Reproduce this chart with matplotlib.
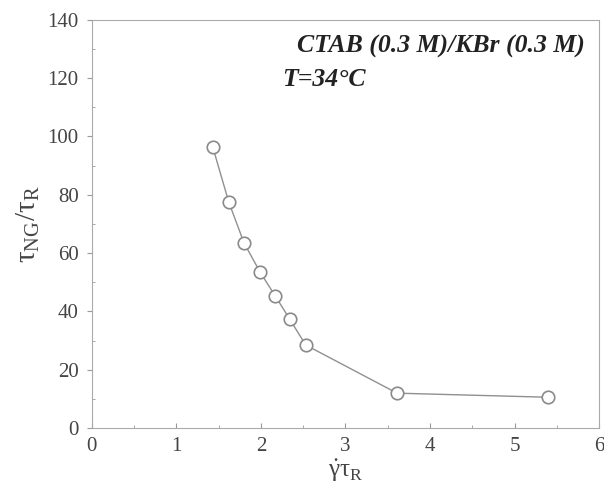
import matplotlib
matplotlib.use("Agg")
import matplotlib.pyplot as plt
from matplotlib.ticker import MultipleLocator

# data
shear_rate = [1.43, 1.62, 1.80, 1.99, 2.17, 2.34, 2.53, 3.61, 5.40]
tau_ratio = [96.4, 77.5, 63.5, 53.5, 45.3, 37.4, 28.5, 12.0, 10.6]
x_ticks = [0, 1, 2, 3, 4, 5, 6]
y_ticks = [0, 20, 40, 60, 80, 100, 120, 140]

plt.rcParams['font.family'] = ['Liberation Serif', 'DejaVu Serif']
plt.rcParams['mathtext.fontset'] = 'custom'
plt.rcParams['mathtext.rm'] = 'Liberation Serif'
plt.rcParams['mathtext.it'] = 'Liberation Serif'
plt.rcParams['mathtext.default'] = 'regular'

fig = plt.figure(figsize=(6.04, 4.95), dpi=100)
ax = fig.add_axes([0.152, 0.135, 0.84, 0.825])

ax.plot(shear_rate, tau_ratio, '-', color='#909090', lw=1.0,
        marker='o', ms=9, mfc='white', mec='#8a8a8a', mew=1.2)

ax.set_xlim(0, 6)
ax.set_ylim(0, 140)
ax.set_xticks(x_ticks)
ax.set_yticks(y_ticks)
ax.xaxis.set_minor_locator(MultipleLocator(0.5))
ax.yaxis.set_minor_locator(MultipleLocator(10))
ax.tick_params(axis='x', which='both', direction='in', colors='#999999',
               labelcolor='#444444', labelsize=15, pad=6)
ax.tick_params(axis='y', which='major', direction='out', colors='#999999',
               labelcolor='#444444', labelsize=15, pad=6)
ax.tick_params(axis='y', which='minor', direction='in', colors='#999999')
for s in ax.spines.values():
    s.set_color('#aaaaaa')

ax.set_xlabel(r'$\dot{\gamma}\tau_{R}$', fontsize=18, color='#444444',
              labelpad=1)
ax.set_ylabel(r'$\tau_{NG}/\tau_{R}$', fontsize=21,
              color='#444444', labelpad=4)

ax.text(5.83, 131, 'CTAB (0.3 M)/KBr (0.3 M)', ha='right', va='center',
        fontsize=18.5, fontweight='bold', fontstyle='italic', color='#222222')
ax.text(2.25, 119.4, 'T=34°C', ha='left', va='center',
        fontsize=18.5, fontweight='bold', fontstyle='italic', color='#222222')

fig.savefig('out.png', dpi=100)
